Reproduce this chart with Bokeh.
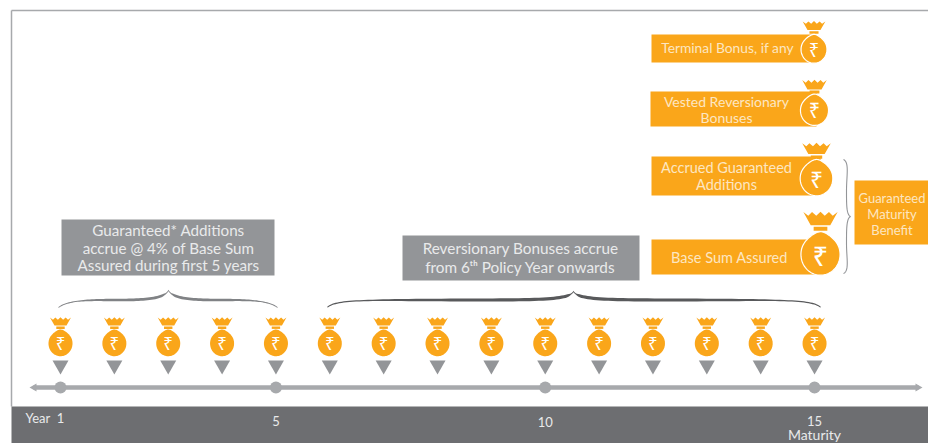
import numpy as np
from bokeh.plotting import figure
from bokeh.models import Range1d
from bokeh.core.properties import value
from bokeh.embed import file_html
from bokeh.resources import INLINE

years = list(range(1, 16))
marked_years = [1, 5, 10, 15]
year_labels = ["1", "5", "10", "15"]
year_label_y = [417, 420, 421, 420]

stack_labels = [["Terminal Bonus, if any"], ["Vested Reversionary", "Bonuses"],
                ["Accrued Guaranteed", "Additions"], ["Base Sum Assured"]]
stack_boxes = [(651, 812, 34, 62), (650, 816, 91, 126), (651, 820, 156, 195), (651, 822, 239, 274)]
stack_bags = [(813.5, 49, 1.08), (814, 110, 1.17), (816, 178, 1.36), (820, 254, 1.63)]
stack_text_x = [727, 726, 726, 729]
stack_text_y = [[47], [101, 117], [167, 184], [257]]
stack_text_size = [13.8, 14, 14.5, 14.5]

ORANGE = "#faa61a"
GREY = "#939598"
LIGHT = "#a7a9ac"
DARK = "#6d6e71"
TXT = "#e9eaeb"
OTXT = "#fde6c2"
FONT = value("Lato")

X_PER_YEAR = 53.86
def px(x):
    return 1 + (np.asarray(x, dtype=float) - 60) / X_PER_YEAR

p = figure(width=928, height=443, output_backend="svg", toolbar_location=None,
           x_range=Range1d(float(px(0)), float(px(928))), y_range=Range1d(443, 0),
           min_border=0)
p.axis.visible = False
p.grid.visible = False
p.outline_line_color = None
p.background_fill_color = "white"

def box(x0, x1, y0, y1, color):
    p.quad(left=[float(px(x0))], right=[float(px(x1))], top=[y0], bottom=[y1],
           fill_color=color, line_color=None)

def label(x, y, s, size, color=TXT, align="center"):
    p.text(x=[float(px(x))], y=[y], text=[s], text_font=FONT, text_font_size=f"{size}px",
           text_color=color, text_align=align, text_baseline="middle")

# Frame
p.line(x=px([11, 928]).tolist(), y=[10, 10], line_color=LIGHT, line_width=1.5)
p.line(x=px([11, 11]).tolist(), y=[10, 406], line_color=LIGHT, line_width=1.5)
box(11, 928, 406, 443, DARK)

def bag(cx_year, cy, s, outline=False):
    t = np.linspace(0, 2 * np.pi, 80)
    sn, cs = np.sin(t), np.cos(t)
    up = sn > 0
    bx = 12 * cs * np.where(up, 1 - 0.32 * sn ** 3, 1)
    by = np.where(up, -14 * sn, -12.7 * sn)
    def X(a):
        return (cx_year + np.asarray(a, dtype=float) * s / X_PER_YEAR).tolist()
    def Y(a):
        return (cy + np.asarray(a, dtype=float) * s).tolist()
    cr_x = [-10.5, -7.5, -5.2, -2.6, 0, 2.6, 5.2, 7.5, 10.5, 6, -6]
    cr_y = [-26, -23.8, -26, -23.8, -26.3, -23.8, -26, -23.8, -26, -18, -18]
    p.patch(X(cr_x), Y(cr_y), fill_color=ORANGE, line_color=None)
    p.quad(left=X([-4.2]), right=X([4.2]), top=Y([-17]), bottom=Y([-14.6]),
           fill_color=ORANGE, line_color=None)
    p.patch(X(bx), Y(by), fill_color=ORANGE,
            line_color="white" if outline else None, line_width=1.2)
    p.text(x=[cx_year], y=[cy + 0.3 * s], text=["₹"], text_font=value("Noto Sans"),
           text_font_size=f"{17 * s:.1f}px", text_color="white",
           text_align="center", text_baseline="middle")

# Timeline
p.line(x=px([33, 918]).tolist(), y=[387, 387], line_color=LIGHT, line_width=4.5)
p.patch(px([29, 36, 36]).tolist(), [387, 383, 391], fill_color=LIGHT, line_color=None)
p.patch(px([922, 915, 915]).tolist(), [387, 383, 391], fill_color=LIGHT, line_color=None)
p.scatter(x=marked_years, y=[387] * 4, size=12, fill_color=LIGHT, line_color=None)

# Yearly bags and markers
for yr in years:
    bag(yr, 343, 1.0)
    hw = 8 / X_PER_YEAR
    p.patch([yr - hw, yr + hw, yr], [360, 360, 374], fill_color=GREY, line_color=None)

# Year strip
label(25, 417, "Year", 13, align="left")
for yr, s, y in zip(marked_years, year_labels, year_label_y):
    p.text(x=[yr], y=[y], text=[s], text_font=FONT, text_font_size="13px", text_color=TXT,
           text_align="center", text_baseline="middle")
label(814, 434, "Maturity", 14)

# Grey captions
box(61, 274, 219, 275, GREY)
for y, s in zip([229.5, 247, 264.5],
                ["Guaranteed* Additions", "accrue @ 4% of Base Sum", "Assured during first 5 years"]):
    label(168, y, s, 15.2)
box(402, 639, 235, 280, GREY)
for y, s in zip([247, 266], ["Reversionary Bonuses accrue", "from 6ᵗʰ Policy Year onwards"]):
    label(520, y, s, 15.3)

# Braces
def cubic(a, b, c, d, n=30):
    u = np.linspace(0, 1, n)[:, None]
    a, b, c, d = map(np.array, (a, b, c, d))
    return (1-u)**3*a + 3*(1-u)**2*u*b + 3*(1-u)*u**2*c + u**3*d

def brace(x0, xm, x1, yend, yflat, ypeak, color, wmax):
    left = np.vstack([cubic((x0, yend), (x0+10, yflat), (x0+30, yflat), ((x0+xm)/2, yflat)),
                      cubic(((x0+xm)/2, yflat), (xm-30, yflat), (xm-5, yflat), (xm, ypeak))])
    right = np.vstack([cubic((xm, ypeak), (xm+5, yflat), (xm+30, yflat), ((xm+x1)/2, yflat)),
                       cubic(((xm+x1)/2, yflat), (x1-30, yflat), (x1-10, yflat), (x1, yend))])
    center = np.vstack([left, right])
    w = wmax * np.clip(1 - (np.abs(center[:, 0] - xm) / ((x1 - x0) / 2)) ** 3, 0.4, 1)
    w = w * np.clip(np.abs(center[:, 0] - xm) / 6, 0.45, 1)
    xs = np.r_[center[:, 0], center[::-1, 0]]
    ys = np.r_[center[:, 1] - w / 2, (center[:, 1] + w / 2)[::-1]]
    p.patch(px(xs).tolist(), ys.tolist(), fill_color=color, line_color=None)

brace(58, 168, 277, 307, 299.5, 290, "#808285", 2.8)
brace(327, 573, 820, 306.5, 299.5, 291, "#58595b", 3.2)

# Maturity stack
for bx_, bg, lines, tx, tys, sz in zip(stack_boxes, stack_bags, stack_labels, stack_text_x,
                                       stack_text_y, stack_text_size):
    box(bx_[0], bx_[1], bx_[2], bx_[3], ORANGE)
    bag(float(px(bg[0])), bg[1], bg[2], outline=True)
    for s, y in zip(lines, tys):
        label(tx, y, s, sz, color=OTXT)

# Side brace and benefit box
c = np.vstack([cubic((843, 159), (849, 162), (846, 175), (846, 190)),
               cubic((846, 190), (846, 205), (846, 214), (850, 216)),
               cubic((850, 216), (846, 218), (846, 228), (846, 243)),
               cubic((846, 243), (846, 258), (849, 270), (843, 273))])
p.line(px(c[:, 0]).tolist(), c[:, 1].tolist(), line_color=GREY, line_width=1.1)
box(854, 928, 180, 244, ORANGE)
for y, s in zip([197, 213, 229], ["Guaranteed", "Maturity", "Benefit"]):
    label(891.5, y, s, 13, color=OTXT)

open("out.html", "w").write(file_html(p, INLINE))
